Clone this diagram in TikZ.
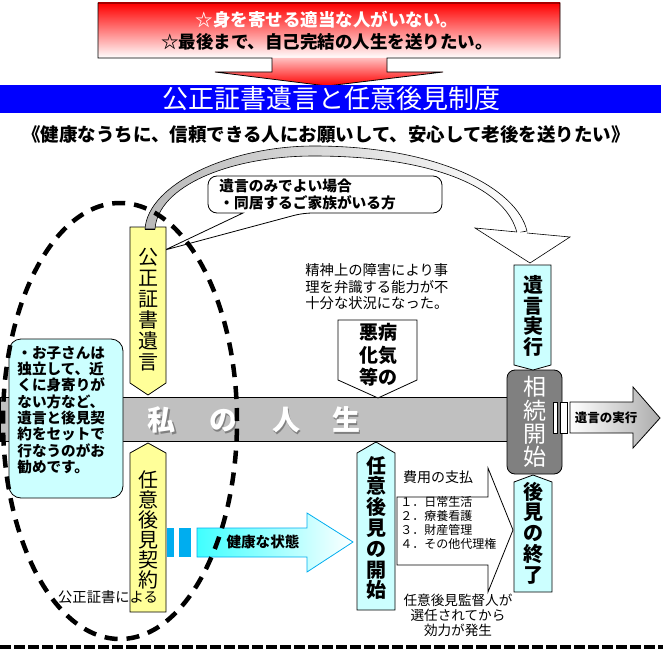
\documentclass[tikz,border=0pt]{standalone}
\usepackage{fontspec}
\setmainfont{Noto Sans CJK JP}
\usepackage{tikz}

\definecolor{wishred}{RGB}{255,0,0}
\definecolor{titleblue}{RGB}{0,0,255}
\definecolor{paleyellow}{RGB}{255,255,153}
\definecolor{palecyan}{RGB}{204,255,255}
\definecolor{lifegray}{RGB}{192,192,192}
\definecolor{startgray}{RGB}{128,128,128}

\begin{document}
\begin{tikzpicture}[x=1pt, y=-1pt, line width=0.8pt,
  vlabel/.style={align=center, inner sep=0pt},
  note/.style={align=left, inner sep=0pt, anchor=west}]
\useasboundingbox (0,0) rectangle (663,650);

% wish arrow and title
\shade[top color=wishred, bottom color=white] (98,3) rectangle (560,58);
\shade[top color=red!25, bottom color=wishred] (272,58) -- (387,58) -- (387,72) -- (443,72) -- (327,86) -- (215,72) -- (272,72) -- cycle;
\draw (98,3) -- (560,3) -- (560,58) -- (387,58) -- (387,72) -- (443,72) -- (327,86) -- (215,72) -- (272,72) -- (272,58) -- (98,58) -- cycle;
\node[align=center, inner sep=0pt, font=\fontsize{17.5}{22}\selectfont\bfseries] (wish) at (327,31)
  {\textcolor{white}{☆身を寄せる適当な人がいない。}\\☆最後まで、自己完結の人生を送りたい。};
\fill[titleblue] (0,85) rectangle (661,113);
\node[text=white, inner sep=0pt, font=\fontsize{26}{26}\selectfont] (title) at (331,99) {公正証書遺言と任意後見制度};
\node[inner sep=0pt, font=\fontsize{18.5}{18.5}\selectfont\bfseries] (motto) at (326,134)
  {《健康なうちに、信頼できる人にお願いして、安心して老後を送りたい》};

% callout
\draw[fill=white, rounded corners=9pt] (208,176) -- (442,176) -- (442,213) -- (303,213) [sharp corners] -- (165,250) -- (243,213) [rounded corners=9pt] -- (208,213) -- cycle;
\node[note, font=\fontsize{14.7}{17}\selectfont\bfseries] (onlywill) at (219,194) {遺言のみでよい場合\\・同居するご家族がいる方};

% notarial will
\draw[fill=paleyellow] (130,227) -- (166,227) -- (166,383) -- (148,395) -- (130,383) -- cycle;
\node[vlabel, font=\fontsize{20}{21}\selectfont] (will) at (148,310) {公\\正\\証\\書\\遺\\言};

% curved arrow to execution
\shade[draw=black, line width=0.6pt, left color=gray!55, right color=white]
  (145,229) .. controls (148,184) and (230,146) .. (314,146) .. controls (440,146) and (517,189) .. (527,231)
  -- (517,233) .. controls (507,191) and (440,156) .. (314,156) .. controls (230,156) and (158,186) .. (155,229) -- cycle;
\draw[line width=0.6pt] (155,229) -- (145,229);
\fill[white] (475,228) -- (570,237) -- (530,263) -- cycle;
\draw[line width=0.6pt] (517,232) -- (475,228) -- (530,263) -- (570,237) -- (527,233);

% life bar
\draw[fill=lifegray] (0,397) rectangle (507,441);
\node[text=gray, inner sep=0pt, font=\fontsize{28}{28}\selectfont\bfseries] (lifeshadow) at (255.5,421.5) {私\hspace{34pt}の\hspace{35pt}人\hspace{32pt}生};
\node[text=white, inner sep=0pt, font=\fontsize{28}{28}\selectfont\bfseries] (life) at (254,420) {私\hspace{34pt}の\hspace{35pt}人\hspace{32pt}生};

% advice bubble
\draw[fill=palecyan, rounded corners=12pt] (9,339) rectangle (123,498);
\node[note, font=\fontsize{14.6}{16.3}\selectfont\bfseries] (advice) at (17,410)
  {・お子さんは\\独立して、近\\くに身寄りが\\ない方など、\\遺言と後見契\\約をセットで\\行なうのがお\\勧めです。};

% guardianship contract
\draw[fill=paleyellow] (148,443) -- (166,453) -- (166,612) -- (130,612) -- (130,453) -- cycle;
\node[vlabel, font=\fontsize{20}{20}\selectfont] (contract) at (148,530) {任\\意\\後\\見\\契\\約};
\node[inner sep=0pt, font=\fontsize{14.3}{14.3}\selectfont] (notary) at (108,597) {公正証書による};

% healthy arrow
\fill[cyan] (167,528) rectangle (174,557);
\fill[cyan] (179,528) rectangle (191,557);
\shade[draw=cyan, left color=cyan!75, right color=white] (197,528) -- (307,528) -- (307,513) -- (353,542) -- (307,572) -- (307,557) -- (197,557) -- cycle;
\node[inner sep=0pt, font=\fontsize{14.6}{14.6}\selectfont\bfseries] (healthy) at (263,542) {健康な状態};

% illness
\draw[fill=white] (338,320) -- (417,320) -- (417,380) -- (378,398) -- (338,380) -- cycle;
\node[vlabel, font=\fontsize{19}{22.5}\selectfont\bfseries] (illness) at (378,355) {悪病\\化気\\等の};
\node[note, font=\fontsize{14.3}{16.5}\selectfont] (mental) at (305,287)
  {精神上の障害により事\\理を弁識する能力が不\\十分な状況になった。};

% guardianship start
\draw[fill=palecyan] (376,442) -- (395,453) -- (395,610) -- (357,610) -- (357,453) -- cycle;
\node[vlabel, font=\fontsize{20}{20.8}\selectfont\bfseries] (begin) at (376,528) {任\\意\\後\\見\\の\\開\\始};
\draw[fill=white] (397,497) -- (488,497) -- (488,468) -- (513,530) -- (488,592) -- (488,565) -- (397,565) -- cycle;
\node[inner sep=0pt, font=\fontsize{14}{14}\selectfont] (cost) at (438,477) {費用の支払};
\node[note, font=\fontsize{12}{14}\selectfont] (duties) at (400,523) {１．日常生活\\２．療養看護\\３．財産管理\\４．その他代理権};
\node[vlabel, font=\fontsize{13.6}{15}\selectfont] (supervisor) at (458,615) {任意後見監督人が\\選任されてから\\効力が発生};

% inheritance
\draw[fill=startgray, rounded corners=8pt] (507,370) rectangle (562,474);
\node[vlabel, text=white, font=\fontsize{23}{23.3}\selectfont] (inherit) at (535,422) {相\\続\\開\\始};
\draw[fill=palecyan] (514,265) -- (551,265) -- (551,365) -- (533,370) -- (514,365) -- cycle;
\node[vlabel, font=\fontsize{20}{20.7}\selectfont\bfseries] (execute) at (533,316) {遺\\言\\実\\行};
\draw[fill=palecyan] (533,475) -- (552,482) -- (552,592) -- (514,592) -- (514,482) -- cycle;
\node[vlabel, font=\fontsize{20}{20.75}\selectfont\bfseries] (finish) at (533,533) {後\\見\\の\\終\\了};
\draw[fill=white, line width=0.6pt] (553,402) rectangle (557,433);
\draw[fill=white, line width=0.6pt] (560,402) rectangle (567,433);
\shade[draw=black, left color=white, right color=gray!65] (570,402) -- (633,402) -- (633,387) -- (660,418) -- (633,448) -- (633,433) -- (570,433) -- cycle;
\node[inner sep=0pt, font=\fontsize{12.5}{12.5}\selectfont\bfseries] (execution) at (606,418) {遺言の実行};

% dashed outline and bottom rule
\draw[line width=4.5pt, dash pattern=on 13pt off 9pt] (120,421) ellipse [x radius=117pt, y radius=218pt];
\draw[line width=4pt, dash pattern=on 11pt off 3pt] (0,647) -- (663,647);
\end{tikzpicture}
\end{document}
